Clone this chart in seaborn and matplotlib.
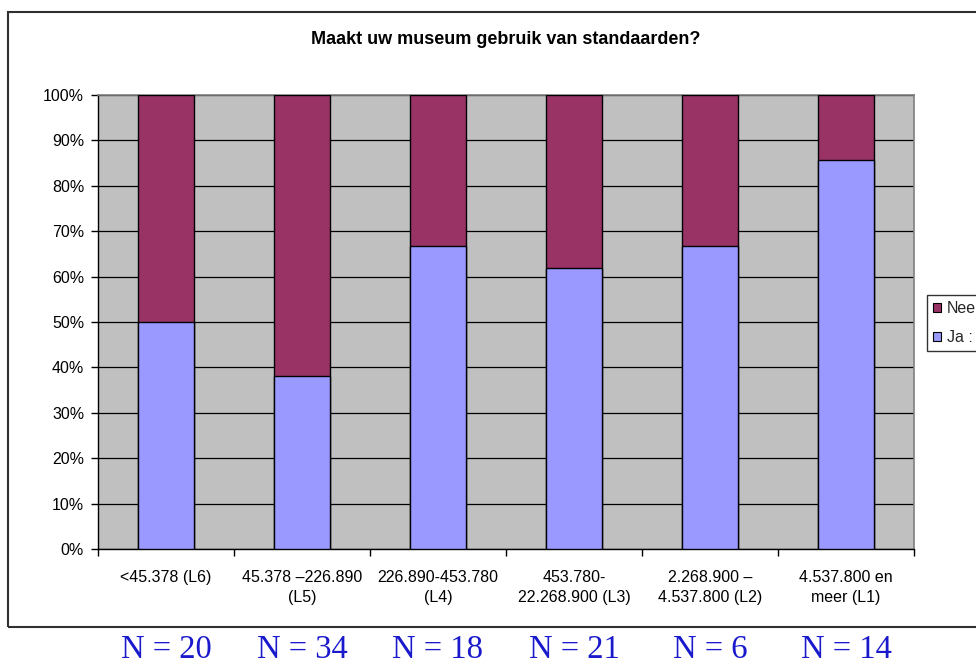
import matplotlib
matplotlib.use("Agg")
import matplotlib.pyplot as plt
from matplotlib.patches import Patch, Rectangle
import numpy as np
import pandas as pd
import seaborn as sns

categories = ["<45.378 (L6)", "45.378 \u2013226.890\n(L5)", "226.890-453.780\n(L4)",
              "453.780-\n22.268.900 (L3)", "2.268.900 \u2013\n4.537.800 (L2)",
              "4.537.800 en\nmeer (L1)"]
ja = [50.0, 38.2, 66.7, 61.9, 66.7, 85.7]
nee = [50.0, 61.8, 33.3, 38.1, 33.3, 14.3]
n_counts = [20, 34, 18, 21, 6, 14]
series_labels = ["Nee", "Ja : "]
yticks = list(range(0, 101, 10))

col_ja = "#9999FF"
col_nee = "#993366"

sns.set_theme(style="white")
plt.rcParams["font.family"] = ["Liberation Sans", "DejaVu Sans"]

df = pd.DataFrame({"cat": categories, "ja": ja, "nee": nee})
df["total"] = df["ja"] + df["nee"]

fig = plt.figure(figsize=(9.76, 6.66), dpi=100)
ax = fig.add_axes([98 / 976, 1 - 549 / 666, (914 - 98) / 976, (549 - 95) / 666])
ax.set_facecolor("#C0C0C0")

sns.barplot(data=df, x="cat", y="total", color=col_nee, saturation=1,
            width=0.41, edgecolor="black", linewidth=1, ax=ax, zorder=3)
sns.barplot(data=df, x="cat", y="ja", color=col_ja, saturation=1,
            width=0.41, edgecolor="black", linewidth=1, ax=ax, zorder=4)

ax.set_xlim(-0.5, len(categories) - 0.5)
ax.set_ylim(0, 100)
ax.set_yticks(yticks)
ax.set_yticklabels([f"{v}%" for v in yticks], fontsize=11.5, color="black")
ax.yaxis.grid(True, color="black", linewidth=0.9, zorder=1)
ax.set_axisbelow(True)

ax.set_xticks(range(len(categories)))
ax.set_xticklabels(categories, fontsize=11.5, color="black", linespacing=1.4)
ax.set_xticks(np.arange(-0.5, len(categories), 1), minor=True)
ax.tick_params(axis="x", which="major", length=0, pad=15)
ax.tick_params(axis="x", which="minor", length=5, width=1, color="black", direction="out", bottom=True)
ax.tick_params(axis="y", which="major", length=5, width=1, color="black", direction="out", left=True, pad=5)
ax.set_xlabel("")
ax.set_ylabel("")

for side in ["left", "bottom"]:
    ax.spines[side].set_color("black")
    ax.spines[side].set_linewidth(1)
for side in ["top", "right"]:
    ax.spines[side].set_color("#808080")
    ax.spines[side].set_linewidth(1.2)

fig.text(506 / 976, 1 - 40 / 666, "Maakt uw museum gebruik van standaarden?",
         ha="center", va="center", fontsize=13, fontweight="bold", color="black")

# chart frame (runs off the right edge)
frame = Rectangle((8 / 976, 1 - 627 / 666), (1000 - 8) / 976, (627 - 12) / 666,
                  transform=fig.transFigure, fill=False, edgecolor="#303030",
                  linewidth=1.5, clip_on=False)
fig.patches.append(frame)

handles = [Patch(facecolor=col_nee, edgecolor="black", linewidth=0.8),
           Patch(facecolor=col_ja, edgecolor="black", linewidth=0.8)]
leg = fig.legend(handles, series_labels, loc="upper left",
                 bbox_to_anchor=(927 / 976, 1 - 295 / 666), frameon=True,
                 fontsize=11.5, handlelength=0.5, handleheight=0.5,
                 handletextpad=0.35, borderpad=0.4, labelspacing=0.85,
                 fancybox=False, borderaxespad=0)
leg.get_frame().set_edgecolor("black")
leg.get_frame().set_linewidth(1)

# sample sizes under each group
for i, n in enumerate(n_counts):
    x_fig = ax.transData.transform((i, 0))[0] / fig.bbox.width
    fig.text(x_fig, 1 - 658 / 666, f"N = {n}", ha="center", va="baseline",
             fontsize=23.5, color="#1a1acc", family=["Liberation Serif", "DejaVu Serif"])

fig.savefig("out.png", dpi=100)
